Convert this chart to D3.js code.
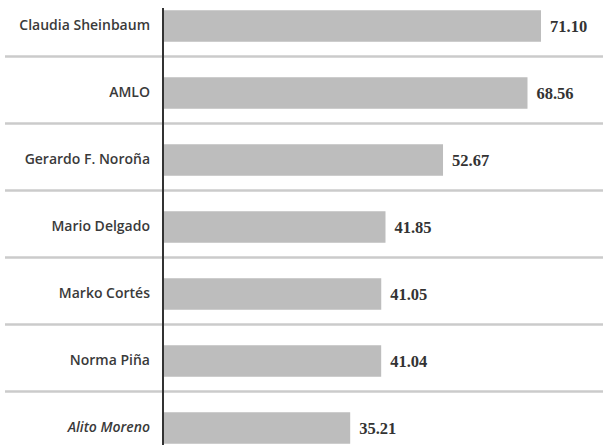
<!DOCTYPE html>
<html>
<head>
	<meta charset="utf-8">
	<title>Aprobación</title>
	<script src="https://cdn.jsdelivr.net/npm/d3@7"></script>
	<style type="text/css">
		body {
			margin: 0;
			background: #fff;
		}
		.name {
			font-family: "Open Sans", sans-serif;
			font-size: 14px;
			font-weight: 600;
			fill: #3a3a3a;
		}
		.value {
			font-family: "Liberation Serif", "DejaVu Serif", serif;
			font-size: 16.5px;
			font-weight: bold;
			fill: #333;
		}
	</style>
</head>
<body>
	<script type="text/javascript">
		var names = ["Claudia Sheinbaum", "AMLO", "Gerardo F. Noroña", "Mario Delgado", "Marko Cortés", "Norma Piña", "Alito Moreno"];
		var values = [71.10, 68.56, 52.67, 41.85, 41.05, 41.04, 35.21];
		var italicNames = ["Alito Moreno"];

		var width = 603,
			height = 445,
			axisX = 163,
			step = 67;

		var svg = d3.select("body")
					.append("svg")
					.attr("width", width)
					.attr("height", height);

		var xScale = d3.scaleLinear()
			.domain([0, 71.10])
			.range([axisX, 541]);

		// band centres start at ~26px and repeat every 67px (rows are cut at top and bottom)
		var yScale = d3.scaleBand()
			.domain(names)
			.range([26 - step / 2, 26 - step / 2 + step * names.length])
			.paddingInner(0.53)
			.paddingOuter(0.265);

		// separators between rows
		svg.append("g")
			.selectAll("line")
			.data(names.slice(1))
			.enter()
			.append("line")
			.attr("x1", 5)
			.attr("x2", width)
			.attr("y1", function (d) { return yScale(d) - yScale.step() * yScale.paddingInner() / 2 - 3; })
			.attr("y2", function (d) { return yScale(d) - yScale.step() * yScale.paddingInner() / 2 - 3; })
			.attr("stroke", "#cbcbcb")
			.attr("stroke-width", 2.5);

		svg.append("g")
			.selectAll("rect")
			.data(values)
			.enter()
			.append("rect")
			.attr("x", xScale(0))
			.attr("y", function (d, i) { return yScale(names[i]); })
			.attr("width", function (d) { return xScale(d) - xScale(0); })
			.attr("height", yScale.bandwidth())
			.attr("fill", "#bdbdbd");

		svg.append("g")
			.selectAll("text")
			.data(values)
			.enter()
			.append("text")
			.attr("class", "value")
			.attr("x", function (d) { return xScale(d) + 9; })
			.attr("y", function (d, i) { return yScale(names[i]) + yScale.bandwidth() / 2; })
			.attr("dy", "0.35em")
			.text(function (d) { return d.toFixed(2); });

		var yAxis = d3.axisLeft(yScale)
			.tickSize(0)
			.tickPadding(13);

		var yAxisG = svg.append("g")
			.attr("transform", "translate(" + axisX + ",0)")
			.call(yAxis);
		yAxisG.select(".domain").remove();
		yAxisG.selectAll("text")
			.attr("class", "name")
			.attr("font-family", null)
			.attr("font-size", null)
			.style("font-style", function (d) {
				return italicNames.indexOf(d) >= 0 ? "italic" : "normal";
			});

		svg.append("line")
			.attr("x1", axisX)
			.attr("x2", axisX)
			.attr("y1", 8)
			.attr("y2", height)
			.attr("stroke", "#333")
			.attr("stroke-width", 2);
	</script>
</body>
</html>
